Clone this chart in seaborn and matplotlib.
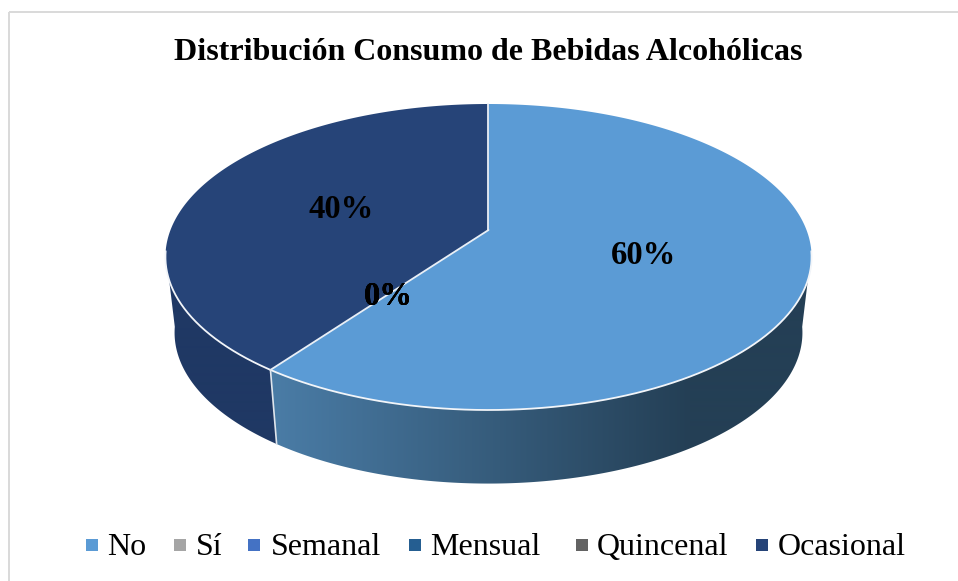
import numpy as np
import matplotlib
matplotlib.use("Agg")
import matplotlib.pyplot as plt
from matplotlib.colors import to_rgb
from matplotlib.patches import Polygon, Rectangle
import seaborn as sns

categories = ["No", "Sí", "Semanal", "Mensual", "Quincenal", "Ocasional"]
values = [60, 0, 0, 0, 0, 40]
colors = ["#5b9bd5", "#a5a5a5", "#4472c4", "#255e91", "#636363", "#264478"]
title = "Distribución Consumo de Bebidas Alcohólicas"

# wall shades per slice: colour at the left end, colour at the right end
wall_shades = {"No": ("#4a7ca6", "#243f55"), "Ocasional": ("#1f3864", "#1e3358")}

# legend layout in pixels: marker x, text x
legend_marker_x = [92, 180, 254, 415, 582, 762]
legend_text_x = [107, 196, 271, 430, 597, 778]

sns.set_theme(style="white", palette=sns.color_palette(colors))
plt.rcParams["font.family"] = ["Liberation Serif", "DejaVu Serif"]

# pixel geometry of the tilted disc
CX, CY, RX, RY = 488.5, 257.0, 318.0, 153.0
APEX = 27.0
K = APEX / RY


def project(theta, r=1.0, cy=CY, rx=RX, ry=RY):
    # perspective view of the unit disc, apex sits above the ellipse centre
    u = r * np.cos(theta)
    v = r * np.sin(theta)
    w = 1 + K * v
    return CX + rx * u / w, cy - (ry * v + APEX) / w


def bottom(theta):
    return project(theta, cy=333.0, rx=309.0, ry=151.0)


fig = plt.figure(figsize=(9.58, 5.81), dpi=100)
ax = fig.add_axes([0, 0, 1, 1])
ax.axis("off")

ax.add_patch(Rectangle((9.5, 11.5), 960, 600, fill=False, ec="#d9d9d9", lw=1.4))

fracs = np.array(values) / sum(values)
stops = np.radians(90 - 360 * np.concatenate([[0], np.cumsum(fracs)]))
front_hi, front_lo = np.radians(-8), np.radians(-172)

# side wall first, only the part that faces the viewer
for i, name in enumerate(categories):
    if values[i] == 0:
        continue
    hi = min(stops[i], front_hi)
    lo = max(stops[i + 1], front_lo)
    th = np.linspace(hi, lo, 300)
    xt, yt = project(th)
    xb, yb = bottom(th[::-1])
    left, right = wall_shades[name]
    t = np.clip((np.arange(958) - 274) / (690 - 274), 0, 1)[None, :, None]
    grad = np.array(to_rgb(left))[None, None, :] * (1 - t) + np.array(to_rgb(right))[None, None, :] * t
    img = ax.imshow(grad, extent=(0, 958, 581, 0), aspect="auto", zorder=2, interpolation="bilinear")
    clip = Polygon(np.c_[np.r_[xt, xb], np.r_[yt, yb]], closed=True, transform=ax.transData)
    img.set_clip_path(clip)

ax.set_xlim(0, 958)
ax.set_ylim(581, 0)

# top of the disc
apex_x, apex_y = project(np.array(0.0), r=0.0)
for i in range(len(categories)):
    if values[i] == 0:
        continue
    th = np.linspace(stops[i], stops[i + 1], 300)
    x, y = project(th)
    ax.fill(np.r_[apex_x, x], np.r_[apex_y, y], color=colors[i], lw=0, zorder=3)

# rim and seams
th = np.linspace(front_hi, front_lo, 400)
ax.plot(*project(th), color="#f2f5f9", lw=1.3, zorder=4)
for s in [stops[0], stops[1]]:
    ex, ey = project(np.array(s))
    ax.plot([apex_x, ex], [apex_y, ey], color="#e9eff6", lw=1.3, zorder=4)
ex, ey = project(np.array(stops[1]))
fx, fy = bottom(np.array(stops[1]))
ax.plot([ex, fx], [ey, fy], color="#dfe5ec", lw=1.2, zorder=4)

# one label per slice, the empty ones all land on the same spot
for i, v in enumerate(values):
    mid = (stops[i] + stops[i + 1]) / 2
    lx, ly = project(np.array(mid), r=0.5)
    ax.text(lx, ly + 2, f"{v:.0f}%", ha="center", va="center", fontsize=23.5,
            fontweight="bold", color="black", zorder=5)

ax.text(488.5, 53, title, ha="center", va="center", fontsize=23, fontweight="bold", color="black")

for name, c, mx, tx in zip(categories, colors, legend_marker_x, legend_text_x):
    ax.plot([mx], [545], ls="none", marker="s", ms=8, color=c, mew=0, zorder=4)
    ax.text(tx, 555, name, ha="left", va="baseline", fontsize=23, color="black")

fig.savefig("out.png", dpi=100)
